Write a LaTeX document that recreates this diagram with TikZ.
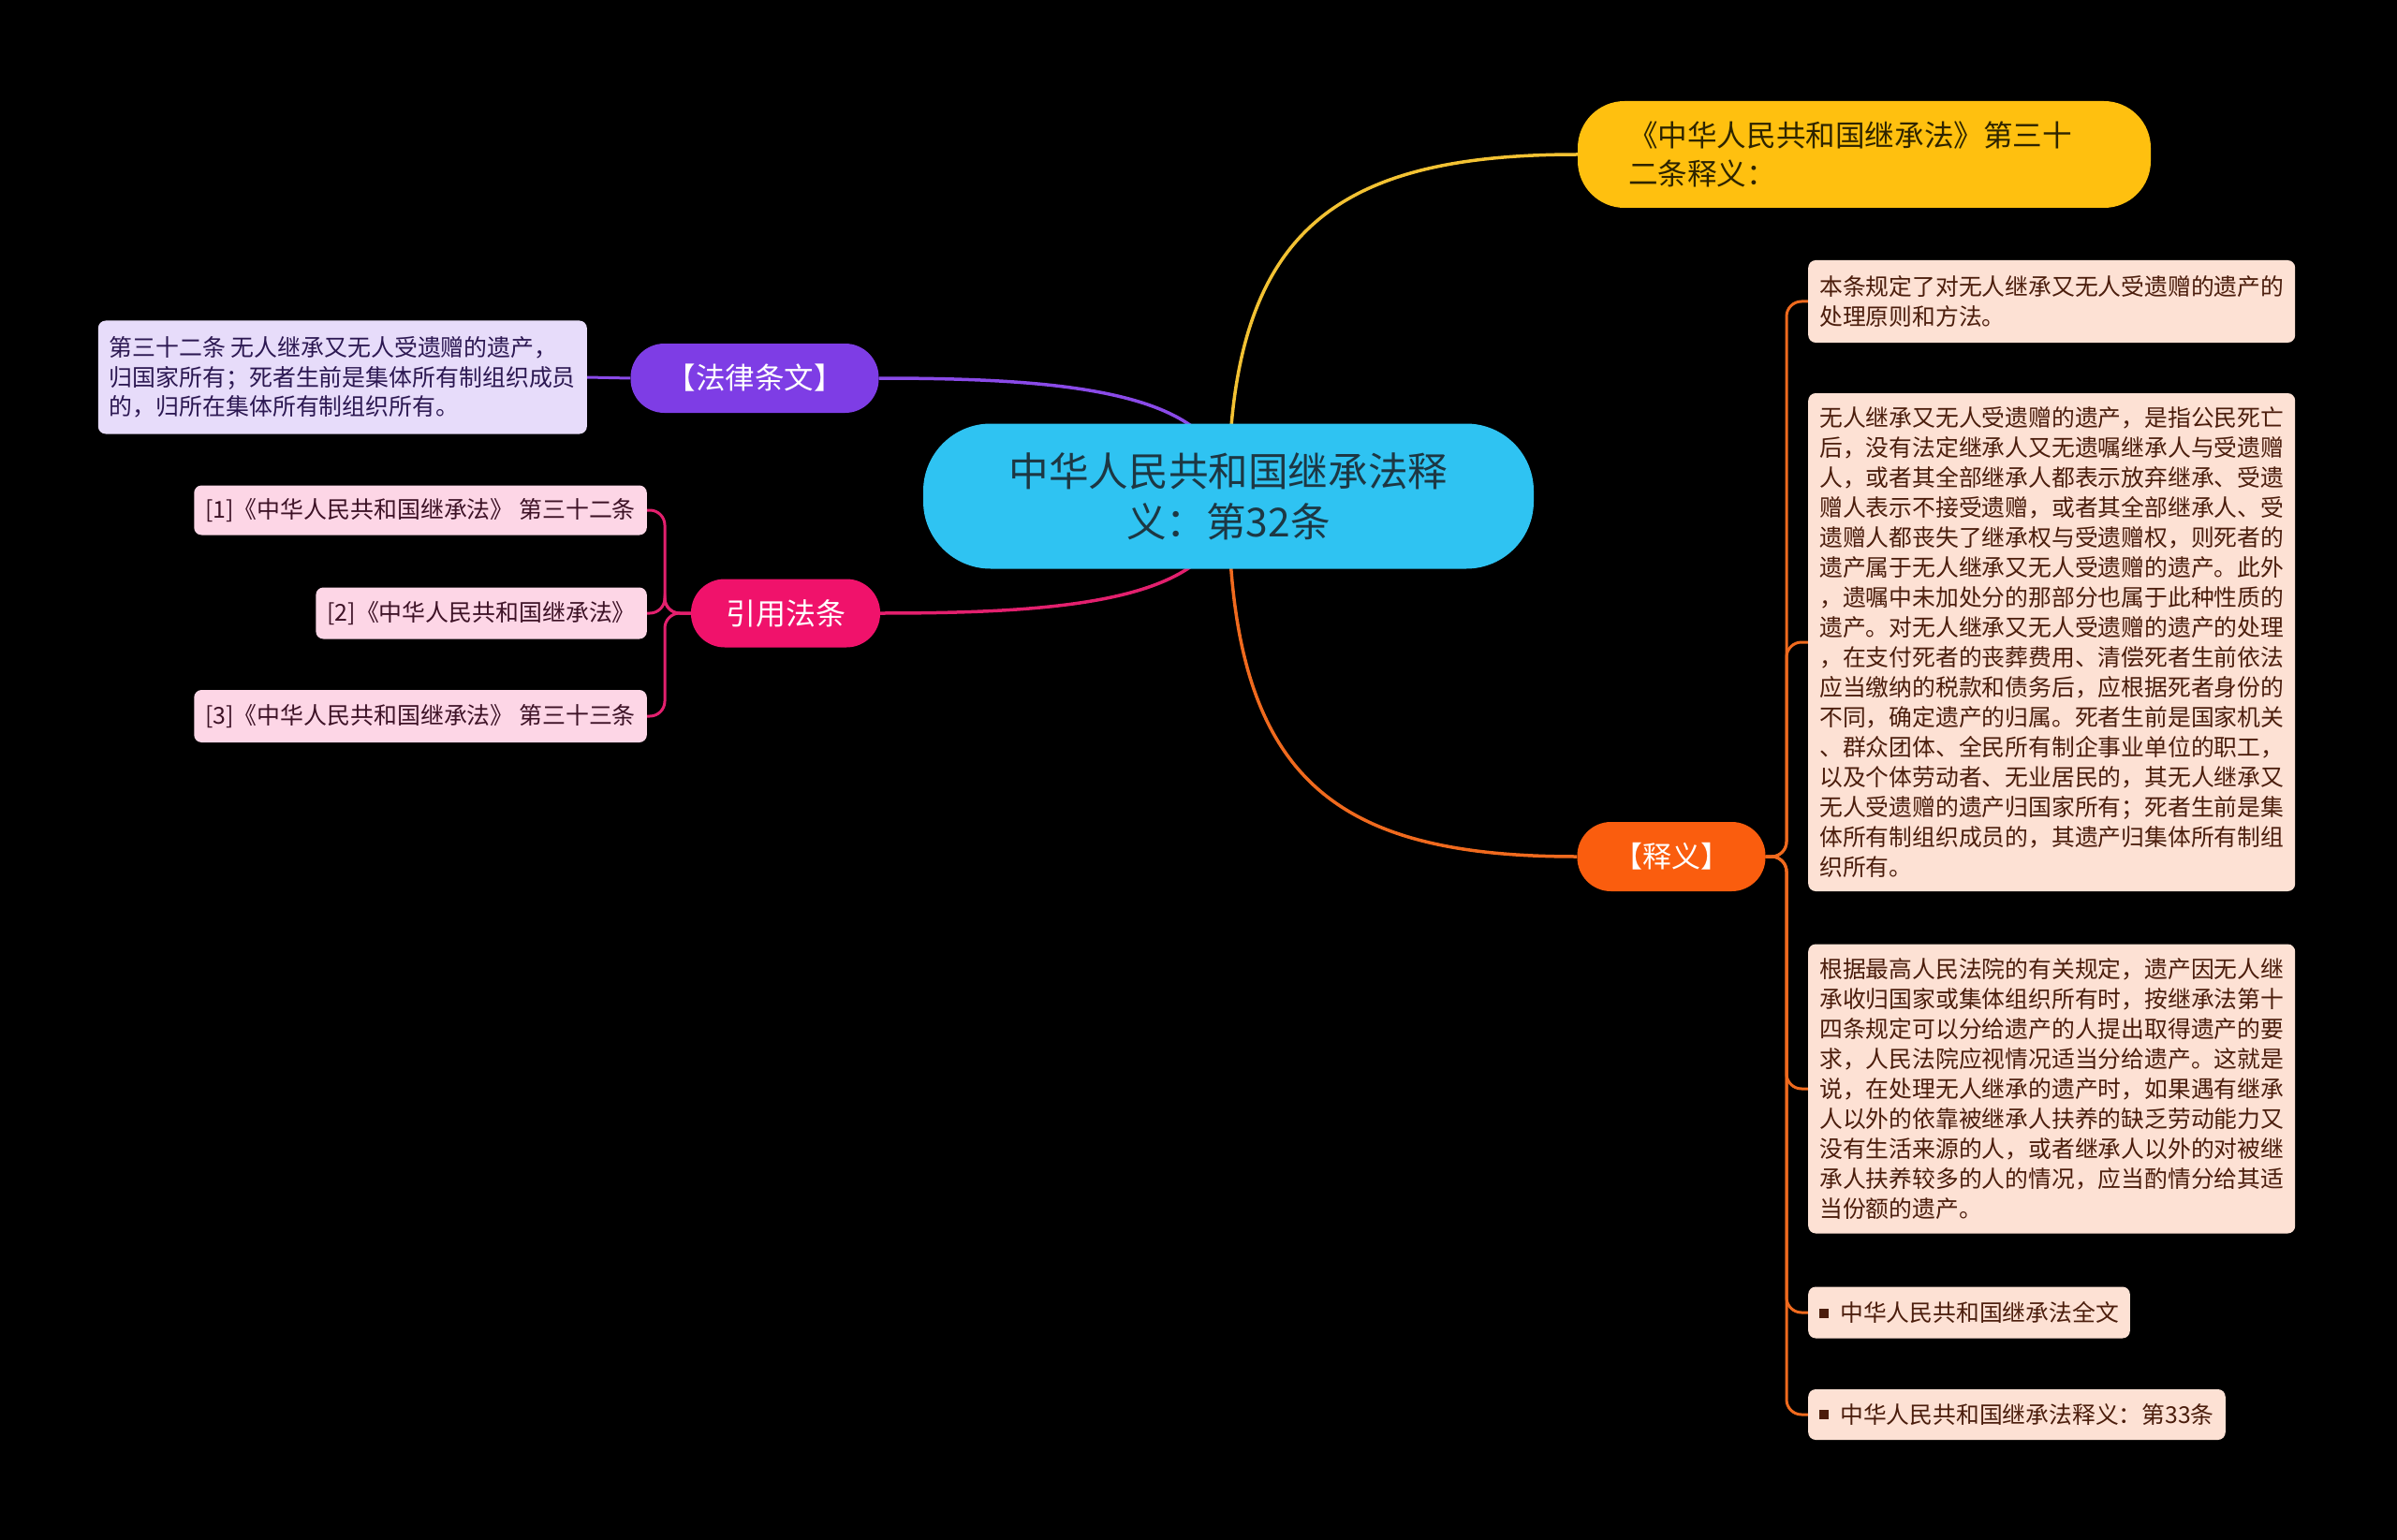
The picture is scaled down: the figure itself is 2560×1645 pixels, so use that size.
\documentclass[tikz,border=0pt]{standalone}
\usepackage{fontspec}
\setmainfont{Noto Sans CJK SC}
\usetikzlibrary{positioning}
\definecolor{Night}{HTML}{000000}
\definecolor{RootBlue}{HTML}{2FC3F2}
\definecolor{RootInk}{HTML}{1D3743}
\definecolor{GoldFill}{HTML}{FFC00F}
\definecolor{GoldInk}{HTML}{2E2400}
\definecolor{GoldLine}{HTML}{F3C233}
\definecolor{LawPurple}{HTML}{7E3DE5}
\definecolor{LawLine}{HTML}{8A4AE8}
\definecolor{LawLeaf}{HTML}{E7DCFA}
\definecolor{LawInk}{HTML}{2C1852}
\definecolor{CitePink}{HTML}{F0126B}
\definecolor{CiteLine}{HTML}{E3206E}
\definecolor{CiteLeaf}{HTML}{FDD6E6}
\definecolor{CiteInk}{HTML}{3D1226}
\definecolor{NoteOrange}{HTML}{FA5D0E}
\definecolor{NoteLine}{HTML}{F06A1E}
\definecolor{NoteLeaf}{HTML}{FDE1D4}
\definecolor{NoteInk}{HTML}{4B1D0C}
\pgfdeclarelayer{backdrop}
\pgfdeclarelayer{links}
\pgfsetlayers{backdrop,links,main}
\newcommand{\sizeto}[2]{\fontsize{#1pt}{#2pt}\selectfont}
\newcommand{\sqmark}{\textcolor{NoteInk}{\rule[4pt]{10pt}{10pt}}\hspace{12pt}}
\tikzset{
  pill/.style={rounded corners=#1, inner sep=0pt, align=center},
  leafbox/.style={rounded corners=8pt, inner xsep=12pt, inner ysep=8pt, align=left},
  branch/.style={line width=3.5pt},
  twig/.style={line width=3pt, rounded corners=16pt}
}

\begin{document}
\begin{tikzpicture}[x=1pt,y=-1pt]
  \begin{pgfonlayer}{backdrop}
    \fill[Night] (0,0) rectangle (2560,1645);
  \end{pgfonlayer}
  \useasboundingbox (0,0) rectangle (2560,1645);

  \node[
    pill=72pt,
    fill=RootBlue,
    text=RootInk,
    minimum width=652pt,
    minimum height=155pt,
    font={\sizeto{42.6}{54}}
  ] (root) at (1312,530) {中华人民共和国继承法释\\义：第32条};

  \node[
    pill=50pt,
    fill=GoldFill,
    text=GoldInk,
    minimum width=612pt,
    minimum height=114pt,
    text width=504pt,
    align=left,
    font={\sizeto{31.6}{41}}
  ] (gold) at (1991,165) {《中华人民共和国继承法》第三十\\二条释义：};

  \node[pill=36pt, fill=LawPurple, text=white, minimum width=265pt, minimum height=74pt,
    font={\sizeto{31.5}{40}}] (lawtag) at (806,404) {【法律条文】};
  \node[leafbox, fill=LawLeaf, text=LawInk, minimum height=121pt, anchor=east,
    font={\sizeto{24.9}{31.8}}] (lawtext) at (627,403)
    {第三十二条 无人继承又无人受遗赠的遗产，\\归国家所有；死者生前是集体所有制组织成员\\的，归所在集体所有制组织所有。};

  \node[pill=36pt, fill=CitePink, text=white, minimum width=202pt, minimum height=73pt,
    font={\sizeto{32}{40}}] (cite) at (839,655) {引用法条};
  \node[leafbox, fill=CiteLeaf, text=CiteInk, minimum height=53pt, anchor=east,
    font={\sizeto{24.9}{31}}] (cite1) at (691,545) {[1]《中华人民共和国继承法》 第三十二条};
  \node[leafbox, fill=CiteLeaf, text=CiteInk, minimum height=55pt, anchor=east,
    font={\sizeto{24.9}{31}}] (cite2) at (691,655) {[2]《中华人民共和国继承法》};
  \node[leafbox, fill=CiteLeaf, text=CiteInk, minimum height=56pt, anchor=east,
    font={\sizeto{24.9}{31}}] (cite3) at (691,765) {[3]《中华人民共和国继承法》 第三十三条};

  \node[pill=36pt, fill=NoteOrange, text=white, minimum width=201pt, minimum height=74pt,
    font={\sizeto{31}{40}}] (notetag) at (1785,915) {【释义】};
  \node[leafbox, fill=NoteLeaf, text=NoteInk, minimum height=88pt, anchor=west,
    font={\sizeto{24.8}{32}}] (note1) at (1931,322)
    {本条规定了对无人继承又无人受遗赠的遗产的\\处理原则和方法。};
  \node[leafbox, fill=NoteLeaf, text=NoteInk, minimum height=532pt, anchor=west,
    font={\sizeto{24.8}{32}}] (note2) at (1931,686)
    {无人继承又无人受遗赠的遗产，是指公民死亡\\后，没有法定继承人又无遗嘱继承人与受遗赠\\人，或者其全部继承人都表示放弃继承、受遗\\赠人表示不接受遗赠，或者其全部继承人、受\\遗赠人都丧失了继承权与受遗赠权，则死者的\\遗产属于无人继承又无人受遗赠的遗产。此外\\，遗嘱中未加处分的那部分也属于此种性质的\\遗产。对无人继承又无人受遗赠的遗产的处理\\，在支付死者的丧葬费用、清偿死者生前依法\\应当缴纳的税款和债务后，应根据死者身份的\\不同，确定遗产的归属。死者生前是国家机关\\、群众团体、全民所有制企事业单位的职工，\\以及个体劳动者、无业居民的，其无人继承又\\无人受遗赠的遗产归国家所有；死者生前是集\\体所有制组织成员的，其遗产归集体所有制组\\织所有。};
  \node[leafbox, fill=NoteLeaf, text=NoteInk, minimum height=309pt, anchor=west,
    font={\sizeto{24.8}{32}}] (note3) at (1931,1163)
    {根据最高人民法院的有关规定，遗产因无人继\\承收归国家或集体组织所有时，按继承法第十\\四条规定可以分给遗产的人提出取得遗产的要\\求，人民法院应视情况适当分给遗产。这就是\\说，在处理无人继承的遗产时，如果遇有继承\\人以外的依靠被继承人扶养的缺乏劳动能力又\\没有生活来源的人，或者继承人以外的对被继\\承人扶养较多的人的情况，应当酌情分给其适\\当份额的遗产。};
  \node[leafbox, fill=NoteLeaf, text=NoteInk, minimum height=55pt, anchor=west,
    font={\sizeto{24.8}{32}}] (note4) at (1931,1402) {\sqmark 中华人民共和国继承法全文};
  \node[leafbox, fill=NoteLeaf, text=NoteInk, minimum height=54pt, anchor=west,
    font={\sizeto{24.8}{32}}] (note5) at (1931,1511) {\sqmark 中华人民共和国继承法释义：第33条};

  \begin{pgfonlayer}{links}
    \draw[branch, GoldLine] (root.center) .. controls (1312,250) and (1420,165) .. (gold.west);
    \draw[branch, LawLine] (root.center) .. controls (1312,420) and (1150,404) .. (lawtag.east);
    \draw[branch, CiteLine] (root.center) .. controls (1312,640) and (1150,655) .. (cite.east);
    \draw[branch, NoteLine] (root.center) .. controls (1312,830) and (1420,915) .. (notetag.west);
    \draw[twig, LawLine] (lawtag.west) -- (lawtext.east);
    \coordinate (citebus) at (710,655);
    \foreach \leaf in {cite1,cite2,cite3}
      \draw[twig, CiteLine] (cite.west) -- (citebus) |- (\leaf.east);
    \coordinate (notebus) at (1908,915);
    \foreach \leaf in {note1,note2,note3,note4,note5}
      \draw[twig, NoteLine] (notetag.east) -- (notebus) |- (\leaf.west);
  \end{pgfonlayer}
\end{tikzpicture}
\end{document}
